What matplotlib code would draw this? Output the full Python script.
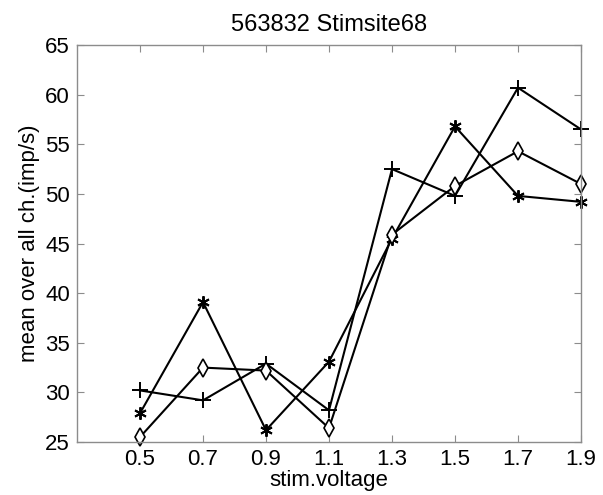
import numpy as np
import matplotlib
matplotlib.use("Agg")
import matplotlib.pyplot as plt

plt.rcParams['font.family'] = ['Liberation Sans', 'DejaVu Sans']

voltage = [0.5, 0.7, 0.9, 1.1, 1.3, 1.5, 1.7, 1.9]
plus_vals = [30.2, 29.2, 32.9, 28.2, 52.5, 49.8, 60.7, 56.5]
star_vals = [27.9, 39.1, 26.2, 33.1, 45.5, 56.8, 49.8, 49.2]
diamond_vals = [25.5, 32.5, 32.2, 26.4, 45.9, 50.8, 54.3, 51.0]

fig = plt.figure(figsize=(6.03, 4.95), dpi=100)
ax = fig.add_axes([0.1277, 0.107, 0.8358, 0.802])

ax.plot(voltage, plus_vals, color='black', lw=1.5, marker='+', ms=11, mew=1.4,
        clip_on=False)
ax.plot(voltage, star_vals, color='black', lw=1.5, marker=(6, 2, 0), ms=9, mew=1.4,
        clip_on=False)
ax.plot(voltage, diamond_vals, color='black', lw=1.5, marker='d', ms=9, mew=1.2,
        mfc='white', clip_on=False)

ax.set_xlim(0.3, 1.9)
ax.set_ylim(25, 65)
ax.set_xticks(voltage)
ax.set_xticklabels([str(v) for v in voltage])
ax.set_yticks(np.arange(25, 66, 5))

for sp in ax.spines.values():
    sp.set_color('#8c8c8c')
    sp.set_linewidth(1.0)
ax.tick_params(direction='in', top=True, right=True, length=5, width=0.8,
               color='#8c8c8c', labelsize=16, labelcolor='black', pad=5)

ax.set_title('563832 Stimsite68', fontsize=17, pad=10)
ax.set_xlabel('stim.voltage', fontsize=16, labelpad=0)
ax.set_ylabel('mean over all ch.(imp/s)', fontsize=16, labelpad=4)

fig.savefig('out.png', dpi=100)
